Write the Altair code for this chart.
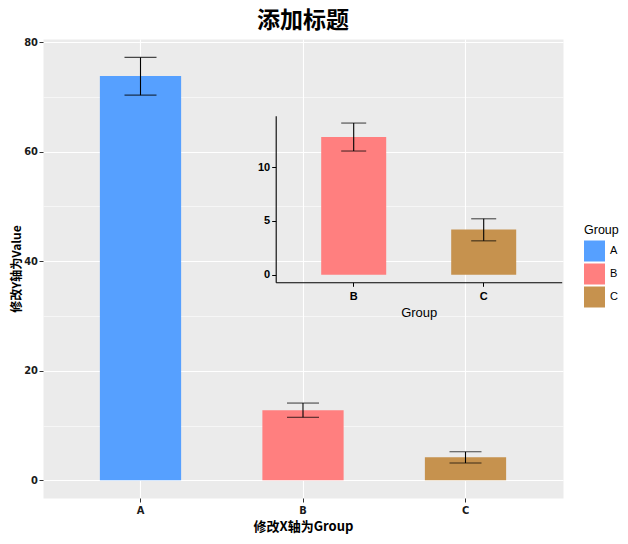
import altair as alt
import pandas as pd

groups = ["A", "B", "C"]
values = [73.8, 12.8, 4.2]
lower = [70.3, 11.5, 3.15]
upper = [77.2, 14.1, 5.2]
colors = ["#56A0FF", "#FF7F7F", "#C6924E"]
inset_groups = ["B", "C"]
main_ticks = [0, 10, 20, 30, 40, 50, 60, 70, 80]
inset_ticks = [0, 5, 10]

df = pd.DataFrame({"Group": groups, "Value": values, "lo": lower, "hi": upper})

PLOT_H = 459
TICK_FONT = "DejaVu Sans Condensed, Liberation Sans, sans-serif"

color = alt.Color("Group:N", scale=alt.Scale(domain=groups, range=colors),
                  legend=alt.Legend(title="Group", orient="none", legendX=541, legendY=185,
                                    symbolType="square", symbolSize=441, symbolStrokeWidth=0,
                                    symbolOpacity=1, titleFontSize=12.5, titleFontWeight="normal",
                                    titleFont="Liberation Sans", labelFont="Liberation Sans",
                                    labelFontSize=11, labelOffset=5, rowPadding=2, titlePadding=4,
                                    titleColor="black", labelColor="black"))

x_main_scale = alt.Scale(domain=groups, paddingInner=0.5, paddingOuter=0.35)
y_main_scale = alt.Scale(domain=[-3.23, 80.55], nice=False, zero=False)

x_main_axis = alt.Axis(title="修改X轴为Group", orient="bottom", bandPosition=0.5, grid=True,
                       gridColor="white", gridWidth=1.1, domain=False, tickColor="#333333",
                       tickSize=4, labelAngle=0, labelFont=TICK_FONT,
                       labelFontWeight="bold", labelFontSize=11, labelColor="#1a1a1a",
                       labelPadding=2, titleFont="Noto Sans CJK SC", titleFontSize=13,
                       titleFontWeight="bold", titlePadding=5, titleColor="black")
y_main_axis = alt.Axis(title="修改Y轴为Value", orient="left", values=main_ticks, grid=True,
                       gridColor="white",
                       gridWidth={"condition": {"test": "datum.value % 20 == 0", "value": 1.1}, "value": 0.55},
                       tickOpacity={"condition": {"test": "datum.value % 20 == 0", "value": 1}, "value": 0},
                       labelExpr="datum.value % 20 == 0 ? datum.label : ''",
                       domain=False, tickColor="#333333", tickSize=4,
                       labelFont=TICK_FONT, labelFontWeight="bold", labelFontSize=11,
                       labelColor="#1a1a1a", labelPadding=1.5, titleFont="Noto Sans CJK SC",
                       titleFontSize=12, titleFontWeight="bold", titlePadding=0, titleColor="black")

base = alt.Chart(df)

main_bars = base.mark_bar().encode(
    x=alt.X("Group:N", scale=x_main_scale, axis=x_main_axis),
    y=alt.Y("Value:Q", scale=y_main_scale, axis=y_main_axis),
    y2=alt.Y2(datum=0),
    color=color,
)
main_rule = base.mark_rule(color="black", strokeWidth=1.1).encode(
    x=alt.X("Group:N", scale=x_main_scale, axis=x_main_axis),
    y=alt.Y("lo:Q", scale=y_main_scale, axis=y_main_axis),
    y2="hi:Q",
)
main_cap_lo = base.mark_tick(color="black", size=32, thickness=1.1).encode(
    x=alt.X("Group:N", scale=x_main_scale, axis=x_main_axis),
    y=alt.Y("lo:Q", scale=y_main_scale, axis=y_main_axis),
)
main_cap_hi = base.mark_tick(color="black", size=32, thickness=1.1).encode(
    x=alt.X("Group:N", scale=x_main_scale, axis=x_main_axis),
    y=alt.Y("hi:Q", scale=y_main_scale, axis=y_main_axis),
)
main = alt.layer(main_bars, main_rule, main_cap_lo, main_cap_hi)

# inset
x_in_scale = alt.Scale(domain=inset_groups, range=[232.7, 518.7], paddingInner=0.5, paddingOuter=0.35)
y_in_scale = alt.Scale(domain=[-0.704, 14.784], range=[243.3, 76.7], nice=False, zero=False)
x_in_axis = alt.Axis(title="Group", orient="bottom", offset=243.3 - PLOT_H, grid=False, domain=True,
                     domainColor="black", domainWidth=1.1, tickColor="black", tickSize=4,
                     labelAngle=0, labelFont="Liberation Sans", labelFontSize=11,
                     labelFontWeight="bold", labelColor="black", labelPadding=4,
                     titleFont="Liberation Sans", titleFontSize=13, titleFontWeight="normal",
                     titleColor="black", titlePadding=5, bandPosition=0.5)
y_in_axis = alt.Axis(title=None, orient="left", offset=-232.7, values=inset_ticks, grid=False,
                     domain=True, domainColor="black", domainWidth=1.1, tickColor="black",
                     tickSize=4, labelFont="Liberation Sans", labelFontSize=11,
                     labelFontWeight="bold", labelColor="black", labelPadding=2)

inset_base = base.transform_filter(alt.FieldOneOfPredicate(field="Group", oneOf=inset_groups))
in_bars = inset_base.mark_bar().encode(
    x=alt.X("Group:N", scale=x_in_scale, axis=x_in_axis),
    y=alt.Y("Value:Q", scale=y_in_scale, axis=y_in_axis),
    y2=alt.Y2(datum=0),
    color=color,
)
in_rule = inset_base.mark_rule(color="black", strokeWidth=1.1).encode(
    x=alt.X("Group:N", scale=x_in_scale, axis=x_in_axis),
    y=alt.Y("lo:Q", scale=y_in_scale, axis=y_in_axis),
    y2="hi:Q",
)
in_cap_lo = inset_base.mark_tick(color="black", size=25, thickness=1.1).encode(
    x=alt.X("Group:N", scale=x_in_scale, axis=x_in_axis),
    y=alt.Y("lo:Q", scale=y_in_scale, axis=y_in_axis),
)
in_cap_hi = inset_base.mark_tick(color="black", size=25, thickness=1.1).encode(
    x=alt.X("Group:N", scale=x_in_scale, axis=x_in_axis),
    y=alt.Y("hi:Q", scale=y_in_scale, axis=y_in_axis),
)
inset = alt.layer(in_bars, in_rule, in_cap_lo, in_cap_hi)

chart = alt.layer(main, inset).resolve_scale(x="independent", y="independent").properties(
    width=520, height=PLOT_H,
    autosize=alt.AutoSizeParams(type="none"),
    padding={"left": 35, "top": 31, "right": 57, "bottom": 38},
    title=alt.TitleParams("添加标题", font="Noto Sans CJK SC", fontSize=23, fontWeight="bold",
                          anchor="middle", offset=3, color="black"),
).configure_view(fill="#EBEBEB", stroke="transparent")

chart.save("out.html", embed_options={"renderer": "svg", "actions": False})
